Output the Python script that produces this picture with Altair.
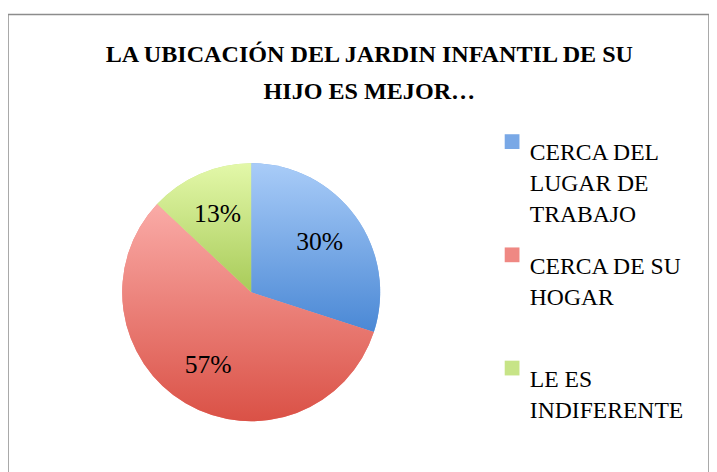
import altair as alt
import pandas as pd

# ---- data ----
categories = ["CERCA DEL|LUGAR DE|TRABAJO", "CERCA DE SU|HOGAR", "LE ES|INDIFERENTE"]
values = [30, 57, 13]
pct_labels = ["30%", "57%", "13%"]
order = [0, 1, 2]

# ---- styling ----
legend_colors = ["#79a8e6", "#ef8883", "#c7e487"]
grad_top = ["#a9ccf8", "#faaba7", "#e3f8a9"]
grad_bottom = ["#4a88d5", "#da5146", "#a8cb59"]

df = pd.DataFrame({"cat": categories, "value": values, "label": pct_labels, "order": order})


def grad(top, bottom):
    return {
        "gradient": "linear", "x1": 0, "y1": 0, "x2": 0, "y2": 1,
        "stops": [{"offset": 0, "color": top}, {"offset": 1, "color": bottom}],
    }


CX, CY, R = 247, 282, 131
theta = alt.Theta("value:Q", stack=True)
ordr = alt.Order("order:Q")

base = alt.Chart(df).encode(theta=theta, order=ordr, x=alt.value(CX), y=alt.value(CY))

legend_layer = base.mark_arc(radius=R).encode(
    color=alt.Color(
        "cat:N",
        sort=categories,
        scale=alt.Scale(domain=categories, range=legend_colors),
        legend=alt.Legend(
            title=None,
            orient="none",
            legendX=500,
            legendY=117,
            symbolType="square",
            symbolSize=225,
            symbolStrokeWidth=0,
            labelFont="Liberation Serif",
            labelFontSize=24,
            labelColor="#000000",
            labelBaseline="top",
            labelOffset=6,
            labelLimit=300,
            labelExpr="split(datum.label, '|')",
            rowPadding=16,
            gridAlign="all",
        ),
    )
)

fill = (
    alt.when(alt.datum.order == 0).then(alt.value(grad(grad_top[0], grad_bottom[0])))
    .when(alt.datum.order == 1).then(alt.value(grad(grad_top[1], grad_bottom[1])))
    .otherwise(alt.value(grad(grad_top[2], grad_bottom[2])))
)

grad_layer = base.mark_arc(radius=R).encode(fill=fill)

text_layer = base.mark_text(
    radius=86, font="Liberation Serif", fontSize=26, color="#000000"
).encode(text="label:N")

chart = (
    alt.layer(legend_layer, grad_layer, text_layer)
    .properties(
        width=712,
        height=470,
        autosize=alt.AutoSizeParams(type="none"),
        padding={"left": 0, "top": 3, "right": 0, "bottom": 0},
        title=alt.Title(
            ["LA UBICACIÓN DEL JARDIN INFANTIL DE SU", "HIJO ES MEJOR…"],
            font="Liberation Serif",
            fontSize=24.5,
            fontWeight="bold",
            color="#000000",
            lineHeight=37,
            anchor="middle",
            dx=11,
            dy=95,
        ),
    )
    .configure(style={"guide-label": {"lineHeight": 31.5}})
    .configure_view(stroke="#8c8c8c", strokeWidth=1.5)
)

chart.save("out.html", embed_options={"renderer": "svg", "actions": False})
